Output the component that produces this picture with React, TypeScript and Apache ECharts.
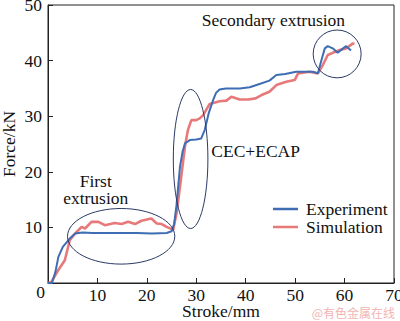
import React, { useEffect, useRef } from "react";
import * as echarts from "echarts";

const xTicks = [0, 10, 20, 30, 40, 50, 60, 70];
const yTicks = [0, 10, 20, 30, 40, 50];

const experiment: [number, number][] = [
  [0, 0], [0.8, 0], [1.5, 2.0], [2.1, 4.7], [3.0, 6.5], [4.4, 8.0], [5.5, 8.9], [7, 9.1], [9, 9.0],
  [12, 9.0], [15, 9.0], [18, 9.0], [21, 8.9], [24, 9.0], [25, 9.3], [25.5, 10.5], [26, 14],
  [26.7, 20.9], [27.2, 23.5], [27.7, 25.1], [28.7, 25.7], [30, 25.8], [31.0, 26.0], [31.7, 27.5],
  [32.5, 30.5], [33.4, 32.9], [34.0, 34.2], [34.7, 34.8], [36, 35.0], [38.8, 35.0], [40.8, 35.2],
  [42.8, 35.8], [44.8, 36.4], [46.2, 37.4], [48, 37.6], [50.2, 38.0], [52, 38.0], [53.6, 38.0],
  [54.6, 37.7], [55.3, 40.0], [56.0, 42.2], [56.6, 42.6], [57.6, 42.2], [58.6, 41.4], [59.7, 42.2],
  [60.3, 42.6], [61.3, 41.8],
];

const simulation: [number, number][] = [
  [0, 0], [0.7, 0.2], [2, 2.2], [3.4, 4.1], [4.4, 7.7], [5.5, 8.9], [6.8, 10.1], [7.5, 9.8],
  [8.8, 11.0], [10.2, 11.0], [11.5, 10.4], [13.5, 10.8], [14.9, 10.6], [16.2, 11.0], [17.6, 10.6],
  [18.9, 11.2], [20.9, 11.6], [22.0, 10.7], [23.0, 10.6], [24.0, 10.1], [25.0, 9.7], [25.3, 9.5],
  [26.0, 12.5], [26.7, 17.3], [27.7, 24.5], [28.3, 27.5], [29.0, 29.3], [30.0, 29.3], [30.7, 29.6],
  [31.4, 30.2], [32.7, 32.2], [34.7, 32.7], [36.1, 32.8], [37.1, 33.5], [38.8, 33.0], [40.5, 33.0],
  [42.0, 33.2], [43.2, 33.8], [44.8, 34.4], [46.2, 35.6], [48.2, 36.2], [49.9, 36.5], [50.6, 37.7],
  [52.9, 38.0], [54.6, 37.7], [55.6, 39.2], [56.6, 41.0], [57.6, 41.4], [59.0, 41.9], [60.3, 42.2],
  [61.7, 43.1], [62, 43.0],
];

// annotation ellipses in data units: [cx, cy, rx, ry]
const ellipses: [number, number, number, number][] = [
  [14.8, 8.4, 10.85, 5.0],
  [28.85, 22.3, 3.5, 12.5],
  [58.5, 41.2, 4.85, 4.3],
];

const annotations: { text: string; x: number; y: number }[] = [
  { text: "Secondary extrusion", x: 45.6, y: 47.3 },
  { text: "CEC+ECAP", x: 42.0, y: 23.7 },
  { text: "First\nextrusion", x: 9.65, y: 16.85 },
];

const SERIF = "'Liberation Serif', 'Times New Roman', serif";
const BLUE = "#3f6db3";
const RED = "#e8797b";

export default function App() {
  const ref = useRef<HTMLDivElement>(null);
  useEffect(() => {
    if (!ref.current) return;
    const chart = echarts.init(ref.current, undefined, { renderer: "svg" });
    const axisCommon = {
      axisLine: { show: true, lineStyle: { color: "#222", width: 1 } },
      axisTick: { show: true, inside: true, length: 5, lineStyle: { color: "#222" } },
      splitLine: { show: false },
      axisLabel: { color: "#111", fontSize: 17.5, fontFamily: SERIF },
      nameTextStyle: { color: "#111", fontSize: 17.5, fontFamily: SERIF, fontWeight: "normal" },
      nameMoveOverlap: false,
    };
    chart.setOption({
      animation: false,
      grid: {
        left: 48, right: 6, top: 5, bottom: 38,
        outerBoundsMode: "none", containLabel: false,
        show: true, borderColor: "#222", borderWidth: 1,
      },
      xAxis: {
        type: "value",
        min: xTicks[0],
        max: xTicks[xTicks.length - 1],
        interval: 10,
        name: "Stroke/mm",
        nameLocation: "middle",
        nameGap: 19,
        ...axisCommon,
        axisLabel: { ...axisCommon.axisLabel, margin: 3, showMinLabel: false },
      },
      yAxis: {
        type: "value",
        min: yTicks[0],
        max: yTicks[yTicks.length - 1],
        interval: 10,
        name: "Force/kN",
        nameLocation: "middle",
        nameGap: 30,
        ...axisCommon,
        axisLabel: { ...axisCommon.axisLabel, margin: 6, showMinLabel: false },
      },
      legend: {
        orient: "vertical",
        left: 268,
        top: 195,
        icon: "rect",
        itemWidth: 25,
        itemHeight: 2.5,
        itemGap: 0,
        textStyle: { color: "#111", fontSize: 17.5, lineHeight: 18, fontFamily: SERIF, padding: [0, 0, 0, 3] },
        data: ["Experiment", "Simulation"],
      },
      series: [
        {
          name: "Simulation",
          type: "line",
          data: simulation,
          symbol: "none",
          lineStyle: { color: RED, width: 2.6 },
          itemStyle: { color: RED },
          z: 2,
        },
        {
          name: "Experiment",
          type: "line",
          data: experiment,
          symbol: "none",
          lineStyle: { color: BLUE, width: 2 },
          itemStyle: { color: BLUE },
          z: 3,
        },
      ],
    });

    const graphics: any[] = [];
    ellipses.forEach(([cx, cy, rx, ry]) => {
      const c = chart.convertToPixel({ gridIndex: 0 }, [cx, cy]) as number[];
      const e = chart.convertToPixel({ gridIndex: 0 }, [cx + rx, cy + ry]) as number[];
      graphics.push({
        type: "ellipse",
        shape: { cx: c[0], cy: c[1], rx: Math.abs(e[0] - c[0]), ry: Math.abs(e[1] - c[1]) },
        style: { fill: "none", stroke: "#2b3a66", lineWidth: 1 },
        z: 10,
      });
    });
    annotations.forEach((a) => {
      const p = chart.convertToPixel({ gridIndex: 0 }, [a.x, a.y]) as number[];
      graphics.push({
        type: "text",
        x: p[0],
        y: p[1],
        style: {
          text: a.text, fill: "#111", font: `17.5px ${SERIF}`, lineHeight: 16.5,
          align: "center", verticalAlign: "middle",
        },
        z: 10,
      });
    });
    const o = chart.convertToPixel({ gridIndex: 0 }, [0, 0]) as number[];
    graphics.push({
      type: "text",
      x: o[0] - 3,
      y: o[1] + 9,
      style: { text: "0", fill: "#111", font: `17.5px ${SERIF}`, align: "right", verticalAlign: "middle" },
    });
    graphics.push({
      type: "text",
      right: 5,
      bottom: 3,
      style: { text: "@有色金属在线", fill: "#f2b3b3", font: "12px 'Noto Sans CJK SC', sans-serif" },
    });
    chart.setOption({ graphic: graphics });
    return () => chart.dispose();
  }, []);
  return <div ref={ref} style={{ width: 400, height: 321, position: "absolute", left: 0, top: 0 }} />;
}
